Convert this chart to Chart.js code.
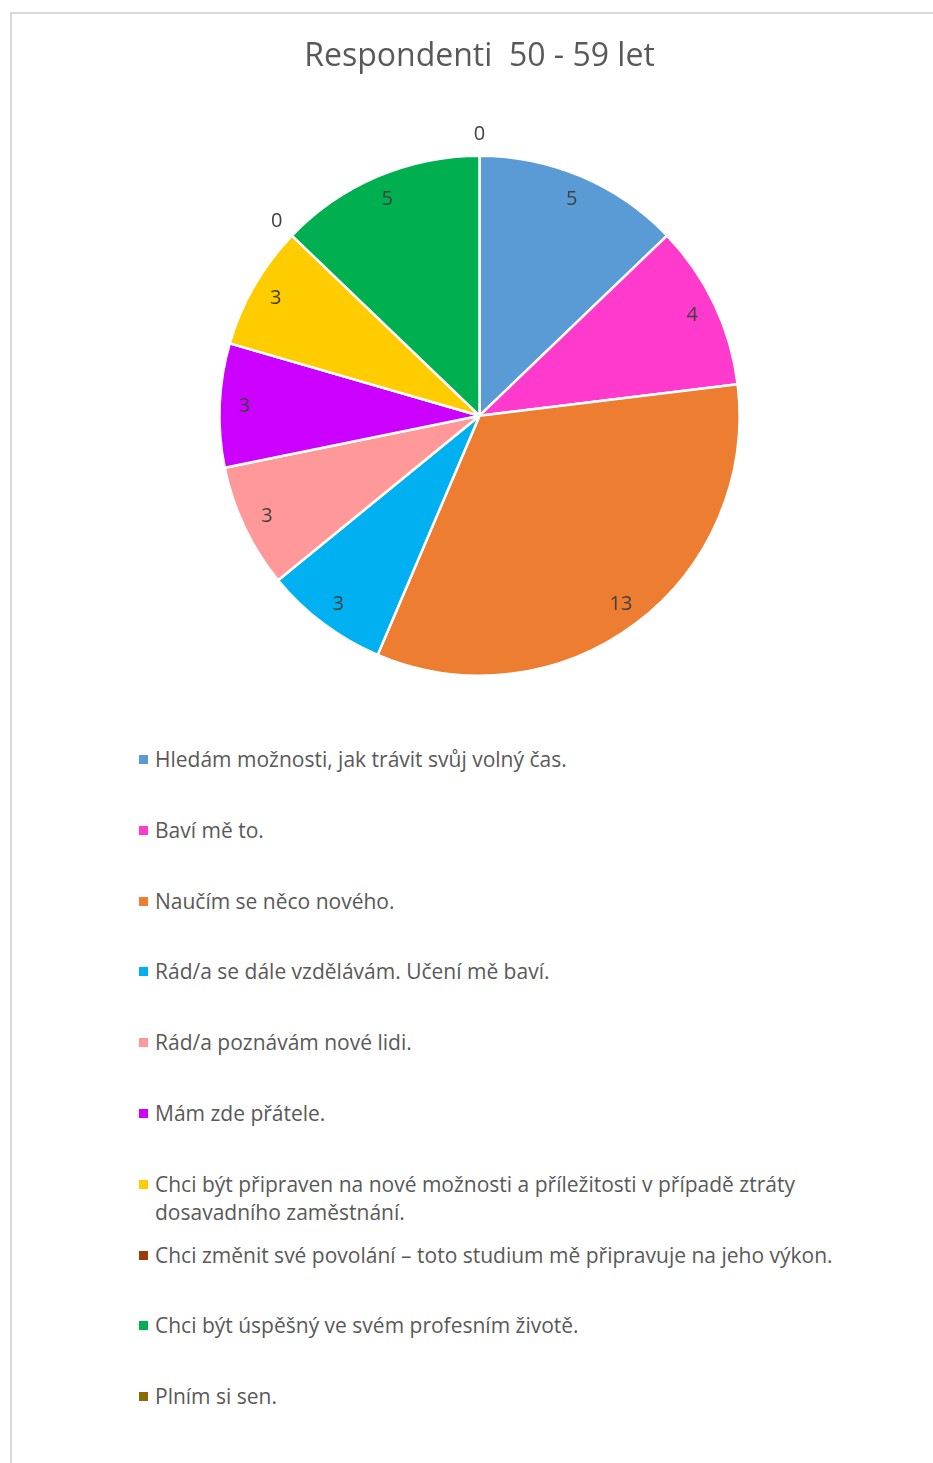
<!DOCTYPE html>
<html>
<head>
<meta charset="utf-8">
<script src="https://cdn.jsdelivr.net/npm/chart.js@4"></script>
<style>
  html, body { margin:0; padding:0; background:#fff; overflow:hidden; }
  body { width:933px; height:1463px; position:relative; font-family: "Open Sans", sans-serif; }
  #frame { position:absolute; left:10px; top:12px; width:1000px; height:1500px;
           border-top:2px solid #d9d9d9; border-left:2px solid #d9d9d9; }
  #wrap { position:absolute; left:0; top:0; width:933px; height:702px; }
  #legend { position:absolute; left:0; top:0; width:933px; }
  .item { position:absolute; left:155px; width:700px; line-height:28px; font-size:21px; color:#595959; }
  .box { position:absolute; left:-16px; top:10px; width:9px; height:9px; }
</style>
</head>
<body>
<div id="frame"></div>
<div id="wrap"><canvas id="pie"></canvas></div>
<div id="legend"></div>

<script>
// ---- data ----
const title = "Respondenti  50 - 59 let";
const categories = [
  "Hledám možnosti, jak trávit svůj volný čas.",
  "Baví mě to.",
  "Naučím se něco nového.",
  "Rád/a se dále vzdělávám. Učení mě baví.",
  "Rád/a poznávám nové lidi.",
  "Mám zde přátele.",
  "Chci být připraven na nové možnosti a příležitosti v případě ztráty dosavadního zaměstnání.",
  "Chci změnit své povolání – toto studium mě připravuje na jeho výkon.",
  "Chci být úspěšný ve svém profesním životě.",
  "Plním si sen."
];
const values = [5, 4, 13, 3, 3, 3, 3, 0, 5, 0];
const colors = ["#5B9BD5", "#FF3ACD", "#ED7D31", "#00B0F0", "#FF9999",
                "#CC00FF", "#FFCC00", "#9E3B0A", "#00B050", "#8B6A00"];

// value labels: inside near the rim, zeros just outside
const valueLabels = {
  id: "valueLabels",
  afterDatasetsDraw(chart){
    const ctx = chart.ctx;
    const meta = chart.getDatasetMeta(0);
    ctx.save();
    ctx.font = "20px 'Open Sans', sans-serif";
    ctx.fillStyle = "#404040";
    ctx.textAlign = "center";
    ctx.textBaseline = "middle";
    meta.data.forEach((arc, i) => {
      const p = arc.getProps(["x","y","startAngle","endAngle","outerRadius"], true);
      const mid = (p.startAngle + p.endAngle) / 2;
      const r = values[i] === 0 ? p.outerRadius + 21 : p.outerRadius * 0.905;
      ctx.fillText(String(values[i]), p.x + Math.cos(mid) * r, p.y + Math.sin(mid) * r);
    });
    ctx.restore();
  }
};

new Chart(document.getElementById("pie"), {
  type: "pie",
  data: {
    labels: categories,
    datasets: [{
      data: values,
      backgroundColor: colors,
      borderColor: "#ffffff",
      borderWidth: 2.5
    }]
  },
  options: {
    responsive: true,
    maintainAspectRatio: false,
    animation: false,
    layout: { padding: { left: 26, top: 0, bottom: 25 } },
    plugins: {
      legend: { display: false },
      tooltip: { enabled: false },
      title: {
        display: true,
        text: title,
        color: "#595959",
        font: { family: "'Open Sans', sans-serif", size: 32, weight: "normal" },
        padding: { top: 38, bottom: 78 }
      }
    }
  },
  plugins: [valueLabels]
});

// legend built from the same arrays
const legend = document.getElementById("legend");
categories.forEach((c, i) => {
  const d = document.createElement("div");
  d.className = "item";
  d.style.top = (745 + i * 70.8) + "px";
  const b = document.createElement("span");
  b.className = "box";
  b.style.background = colors[i];
  d.appendChild(b);
  d.appendChild(document.createTextNode(c));
  legend.appendChild(d);
});
</script>
</body>
</html>
